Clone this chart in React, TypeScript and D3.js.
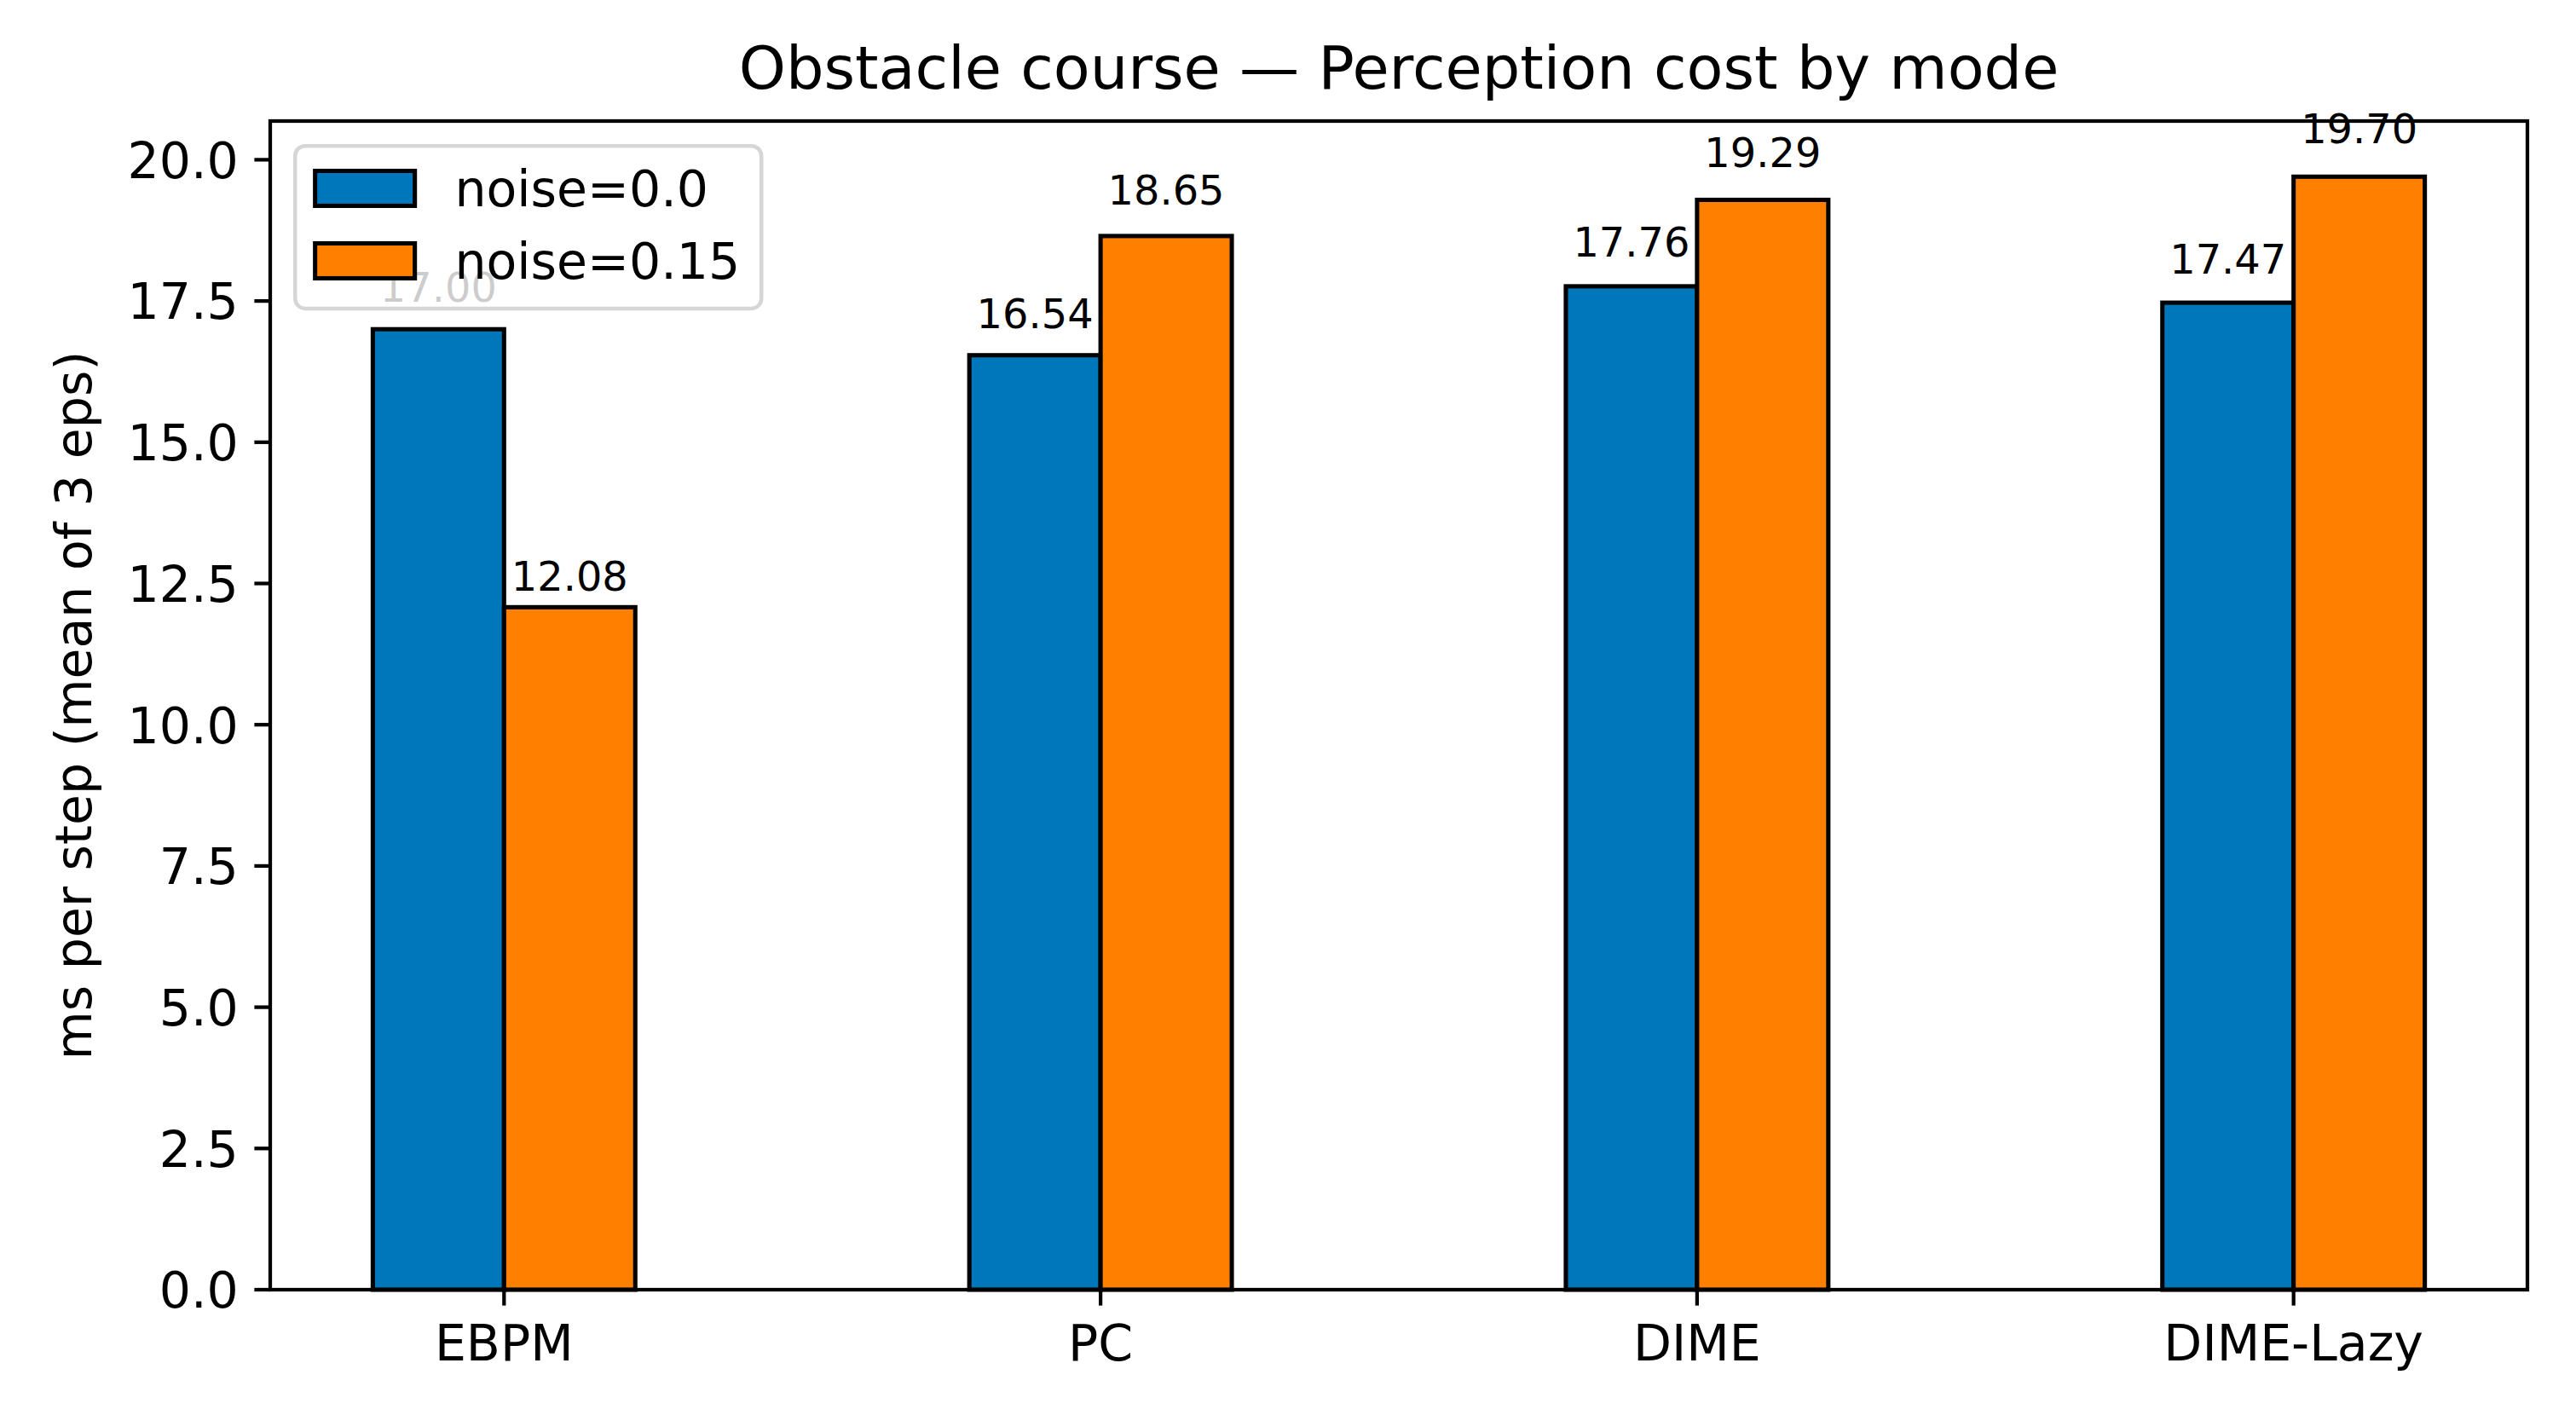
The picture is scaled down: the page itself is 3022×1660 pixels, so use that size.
import { useEffect } from 'react';
import * as d3 from 'd3';

// data
const modes = ["EBPM", "PC", "DIME", "DIME-Lazy"];
const noise0 = [17.00, 16.54, 17.76, 17.47];
const noise15 = [12.08, 18.65, 19.29, 19.70];
const seriesLabels = ["noise=0.0", "noise=0.15"];
const seriesColors = ["#0077bb", "#ff8000"];
const yTicks = [0, 2.5, 5, 7.5, 10, 12.5, 15, 17.5, 20];

const W = 3022;
const H = 1660;
const F = 58.5;            // base font size in px (11pt)
const PT = F / 11;         // px per point
const margin = { top: 142, right: W - 2965, bottom: H - 1513, left: 317 };
const barWidth = 0.22;
const font = "'DejaVu Sans', sans-serif";

export default function App() {
    useEffect(() => {
        document.body.style.margin = "0";
    }, []);

    const series = [noise0, noise15];
    const maxVal = d3.max(series.flat()) || 20;
    const pad = (modes.length - 1 + 2 * barWidth) * 0.05;

    const xScale = d3.scaleLinear()
        .domain([-barWidth - pad, modes.length - 1 + barWidth + pad])
        .range([margin.left, W - margin.right]);

    const yScale = d3.scaleLinear()
        .domain([0, maxVal * 1.05])
        .range([H - margin.bottom, margin.top]);

    const x0 = margin.left;
    const x1 = W - margin.right;
    const yTop = margin.top;
    const yBot = H - margin.bottom;
    const tickLen = 3.5 * PT;
    const lw = 0.8 * PT;
    const barLw = 0.95 * PT;
    const labelFs = 9 * PT;

    // legend layout (matplotlib-ish, in font units)
    const lgX = x0 + 0.5 * F;
    const lgY = yTop + 0.5 * F;
    const handleW = 2 * F;
    const handleH = 0.7 * F;
    const rowStep = 85;
    const lgW = 0.4 * F + handleW + 0.8 * F + 5.75 * F + 0.4 * F;
    const lgH = 0.8 * F + 2 * 0.98 * F + 0.5 * F;

    return (
        <svg width={W} height={H} viewBox={`0 0 ${W} ${H}`}
            style={{ display: "block", background: "#fff" }} fontFamily={font}>
            <rect x={0} y={0} width={W} height={H} fill="#fff" />

            {/* bars */}
            {series.map((vals, si) => (
                <g key={si}>
                    {vals.map((v, i) => {
                        const left = si === 0 ? i - barWidth : i;
                        return (
                            <rect key={i}
                                x={xScale(left)}
                                y={yScale(v)}
                                width={xScale(left + barWidth) - xScale(left)}
                                height={yScale(0) - yScale(v)}
                                fill={seriesColors[si]}
                                stroke="#000"
                                strokeWidth={barLw}
                            />
                        );
                    })}
                </g>
            ))}

            {/* value labels */}
            {series.map((vals, si) => (
                <g key={"l" + si}>
                    {vals.map((v, i) => {
                        const cx = si === 0 ? i - barWidth / 2 : i + barWidth / 2;
                        return (
                            <text key={i}
                                x={xScale(cx)}
                                y={yScale(v * 1.04) + 0.26 * labelFs}
                                textAnchor="middle"
                                fontSize={labelFs}
                                fill="#000">
                                {v.toFixed(2)}
                            </text>
                        );
                    })}
                </g>
            ))}

            {/* spines */}
            <rect x={x0} y={yTop} width={x1 - x0} height={yBot - yTop}
                fill="none" stroke="#000" strokeWidth={lw} />

            {/* y axis ticks */}
            {yTicks.map(t => (
                <g key={t}>
                    <line x1={x0 - tickLen} x2={x0} y1={yScale(t)} y2={yScale(t)}
                        stroke="#000" strokeWidth={lw} />
                    <text x={x0 - 2 * tickLen} y={yScale(t) + 0.365 * F}
                        textAnchor="end" fontSize={F} fill="#000">
                        {t.toFixed(1)}
                    </text>
                </g>
            ))}

            {/* x axis ticks */}
            {modes.map((m, i) => (
                <g key={m}>
                    <line x1={xScale(i)} x2={xScale(i)} y1={yBot} y2={yBot + tickLen}
                        stroke="#000" strokeWidth={lw} />
                    <text x={xScale(i)} y={yBot + 2 * tickLen + 0.78 * F}
                        textAnchor="middle" fontSize={F} fill="#000">
                        {m}
                    </text>
                </g>
            ))}

            {/* y label */}
            <text transform={`translate(107,${(yTop + yBot) / 2}) rotate(-90)`}
                textAnchor="middle" fontSize={F} fill="#000">
                ms per step (mean of 3 eps)
            </text>

            {/* title */}
            <text x={(x0 + x1) / 2} y={104} textAnchor="middle" fontSize={1.2 * F} fill="#000">
                Obstacle course — Perception cost by mode
            </text>

            {/* legend */}
            <g>
                <rect x={lgX} y={lgY} width={lgW} height={lgH} rx={0.2 * F} ry={0.2 * F}
                    fill="#fff" fillOpacity={0.8} stroke="#cccccc" strokeOpacity={0.8}
                    strokeWidth={4.5} />
                {seriesLabels.map((lab, si) => {
                    const cy = lgY + 0.4 * F + 0.45 * F + si * rowStep;
                    const hx = lgX + 0.4 * F;
                    return (
                        <g key={lab}>
                            <rect x={hx} y={cy - handleH / 2} width={handleW} height={handleH}
                                fill={seriesColors[si]} stroke="#000" strokeWidth={barLw} />
                            <text x={hx + handleW + 0.8 * F} y={cy + 0.365 * F}
                                fontSize={F} fill="#000">
                                {lab}
                            </text>
                        </g>
                    );
                })}
            </g>
        </svg>
    );
}
